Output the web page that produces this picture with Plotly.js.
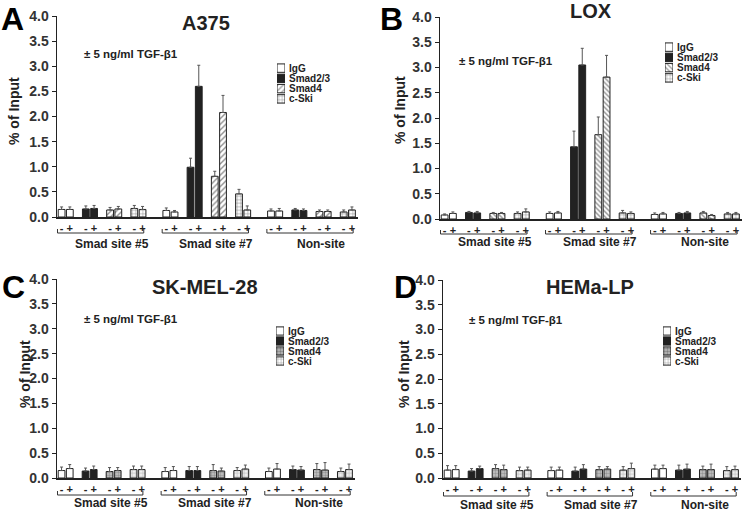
<!DOCTYPE html>
<html>
<head>
<meta charset="utf-8">
<script src="https://cdn.plot.ly/plotly-3.0.1.min.js"></script>
<style>html,body{margin:0;padding:0;background:#fff;}#chart{width:745px;height:511px;}</style>
</head>
<body>
<div id="chart"></div>
<script>
// ---------------- DATA ----------------
const cellLines = ['A375', 'LOX', 'SK-MEL-28', 'HEMa-LP'];
const panelLetters = ['A', 'B', 'C', 'D'];
const groups = ['Smad site #5', 'Smad site #7', 'Non-site'];
const antibodies = ['IgG', 'Smad2/3', 'Smad4', 'c-Ski'];
const treatments = ['-', '+'];
const treatmentNote = '± 5 ng/ml TGF-β1';
const yTitle = '% of Input';
// each array: [site5 -, site5 +, site7 -, site7 +, non-site -, non-site +]
const A375_IgG      = [0.15, 0.15, 0.13, 0.10, 0.12, 0.12];
const A375_IgG_err  = [0.05, 0.05, 0.05, 0.03, 0.04, 0.05];
const A375_Smad23   = [0.16, 0.17, 0.99, 2.60, 0.14, 0.13];
const A375_Smad23_err = [0.06, 0.06, 0.18, 0.42, 0.03, 0.03];
const A375_Smad4    = [0.14, 0.16, 0.81, 2.08, 0.11, 0.11];
const A375_Smad4_err  = [0.05, 0.05, 0.10, 0.34, 0.03, 0.03];
const A375_cSki     = [0.17, 0.15, 0.46, 0.14, 0.10, 0.14];
const A375_cSki_err   = [0.06, 0.06, 0.09, 0.08, 0.04, 0.06];

const LOX_IgG       = [0.08, 0.11, 0.11, 0.12, 0.09, 0.10];
const LOX_IgG_err   = [0.02, 0.03, 0.03, 0.03, 0.03, 0.03];
const LOX_Smad23    = [0.13, 0.12, 1.43, 3.05, 0.11, 0.12];
const LOX_Smad23_err  = [0.02, 0.03, 0.31, 0.33, 0.02, 0.03];
const LOX_Smad4     = [0.11, 0.11, 1.67, 2.81, 0.12, 0.07];
const LOX_Smad4_err   = [0.02, 0.02, 0.35, 0.43, 0.03, 0.02];
const LOX_cSki      = [0.11, 0.14, 0.12, 0.11, 0.10, 0.10];
const LOX_cSki_err    = [0.03, 0.06, 0.05, 0.03, 0.03, 0.03];

const SKMEL28_IgG     = [0.15, 0.19, 0.13, 0.15, 0.13, 0.18];
const SKMEL28_IgG_err = [0.07, 0.08, 0.08, 0.08, 0.07, 0.11];
const SKMEL28_Smad23  = [0.14, 0.17, 0.15, 0.15, 0.17, 0.16];
const SKMEL28_Smad23_err = [0.06, 0.07, 0.08, 0.08, 0.07, 0.07];
const SKMEL28_Smad4   = [0.13, 0.15, 0.15, 0.14, 0.17, 0.16];
const SKMEL28_Smad4_err  = [0.08, 0.06, 0.12, 0.06, 0.12, 0.15];
const SKMEL28_cSki    = [0.17, 0.17, 0.15, 0.18, 0.13, 0.17];
const SKMEL28_cSki_err   = [0.07, 0.07, 0.06, 0.08, 0.07, 0.11];

const HEMaLP_IgG      = [0.16, 0.17, 0.15, 0.16, 0.18, 0.19];
const HEMaLP_IgG_err  = [0.09, 0.08, 0.07, 0.06, 0.08, 0.07];
const HEMaLP_Smad23   = [0.14, 0.19, 0.14, 0.18, 0.16, 0.18];
const HEMaLP_Smad23_err = [0.05, 0.05, 0.08, 0.09, 0.10, 0.10];
const HEMaLP_Smad4    = [0.19, 0.17, 0.17, 0.18, 0.17, 0.17];
const HEMaLP_Smad4_err  = [0.08, 0.09, 0.06, 0.05, 0.07, 0.11];
const HEMaLP_cSki     = [0.15, 0.16, 0.16, 0.19, 0.15, 0.17];
const HEMaLP_cSki_err   = [0.07, 0.06, 0.07, 0.11, 0.08, 0.07];

const panelValues = [
  [A375_IgG, A375_Smad23, A375_Smad4, A375_cSki],
  [LOX_IgG, LOX_Smad23, LOX_Smad4, LOX_cSki],
  [SKMEL28_IgG, SKMEL28_Smad23, SKMEL28_Smad4, SKMEL28_cSki],
  [HEMaLP_IgG, HEMaLP_Smad23, HEMaLP_Smad4, HEMaLP_cSki]
];
const panelErrors = [
  [A375_IgG_err, A375_Smad23_err, A375_Smad4_err, A375_cSki_err],
  [LOX_IgG_err, LOX_Smad23_err, LOX_Smad4_err, LOX_cSki_err],
  [SKMEL28_IgG_err, SKMEL28_Smad23_err, SKMEL28_Smad4_err, SKMEL28_cSki_err],
  [HEMaLP_IgG_err, HEMaLP_Smad23_err, HEMaLP_Smad4_err, HEMaLP_cSki_err]
];

// ---------------- LAYOUT / STYLE ----------------
const W = 745, H = 511;
const GROUP_STEP = 4.32, HALF = 0.17, BAR_W = 0.28;
const XRANGE = [-0.36, 12.06];
const FONT = 'Liberation Sans, Arial, sans-serif';
const INK = '#222';

// pixel boxes of each panel's plot area: [left, right, top(4.0), bottom(0.0)]
const boxes = [[57, 358, 16, 217], [440, 742, 17, 219], [57, 355, 279, 478], [443, 741, 280, 478]];
// legend swatch boxes: [left, right, top, bottom]
const legBoxes = [[277, 285, 63, 104], [665, 673, 42, 83], [276, 284, 326, 366], [663, 671, 326, 366]];
const letterPos = [[13, 19], [391, 19], [14, 287], [405, 287]];
const titlePos = [[206, 23], [591, 11], [205, 287], [590, 287]];
const notePos = [[82, 54], [457, 61], [82, 319], [467, 320]];
const yTitlePos = [[14, 111], [400, 110], [25, 374], [404, 374]];
// offsets below axis (px): bracket bottom, bracket top, group label center
const belowOff = [[-16, -12, -27], [-15, -11, -23], [-17, -13, -25], [-18, -14, -27]];

function styleFor(p, a) {
  const light = p >= 2;
  if (a === 0) return {color: 'white', pattern: {shape: ''}};
  if (a === 1) return {color: INK, pattern: {shape: ''}};
  if (a === 2) {
    if (p === 0) return {color: 'white', pattern: {shape: '/', fgcolor: INK, bgcolor: 'white', size: 4, solidity: 0.35, fillmode: 'overlay'}};
    if (p === 1) return {color: 'white', pattern: {shape: '\\', fgcolor: INK, bgcolor: 'white', size: 3.5, solidity: 0.4, fillmode: 'overlay'}};
    return {color: '#bdbdbd', pattern: {shape: '.', fgcolor: '#6a6a6a', bgcolor: '#c4c4c4', size: 3, solidity: 0.5, fillmode: 'overlay'}};
  }
  return {color: 'white', pattern: {shape: '+', fgcolor: light ? '#7a7a7a' : INK, bgcolor: light ? '#f0f0f0' : 'white', size: 3.5, solidity: 0.3, fillmode: 'overlay'}};
}

function xPositions(a) {
  const out = [];
  for (let g = 0; g < groups.length; g++)
    for (let t = 0; t < treatments.length; t++)
      out.push(g * GROUP_STEP + a + (t === 0 ? -HALF : HALF));
  return out;
}

const traces = [];
const layout = {
  width: W, height: H,
  margin: {l: 0, r: 0, t: 0, b: 0},
  paper_bgcolor: 'white', plot_bgcolor: 'rgba(0,0,0,0)',
  barmode: 'overlay', showlegend: false,
  font: {family: FONT, color: INK},
  annotations: [], shapes: []
};

const allTickVals = [], allTickText = [];
for (let a = 0; a < antibodies.length; a++) {
  xPositions(a).forEach((x, i) => { allTickVals.push(x); allTickText.push(treatments[i % 2]); });
}

for (let p = 0; p < 4; p++) {
  const n = p + 1;
  const xk = n === 1 ? 'xaxis' : 'xaxis' + n, yk = n === 1 ? 'yaxis' : 'yaxis' + n;
  const xid = n === 1 ? 'x' : 'x' + n, yid = n === 1 ? 'y' : 'y' + n;
  const [L, R, T, B] = boxes[p];
  layout[xk] = {
    domain: [L / W, R / W], range: XRANGE, anchor: yid,
    showline: true, linecolor: INK, linewidth: 1.5, showgrid: false, zeroline: false,
    ticks: '', tickmode: 'array', tickvals: allTickVals, ticktext: allTickText,
    tickfont: {size: 11, weight: 'bold', color: INK}, fixedrange: true
  };
  layout[yk] = {
    domain: [1 - B / H, 1 - T / H], range: [0, 4], anchor: xid,
    showline: true, linecolor: INK, linewidth: 1.5, showgrid: false, zeroline: false,
    ticks: 'outside', ticklen: 4, tickwidth: 1, tickcolor: INK, dtick: 0.5, tickformat: '.1f',
    tickfont: {size: 14, weight: 'bold', color: '#333'}, fixedrange: true
  };
  for (let a = 0; a < antibodies.length; a++) {
    const st = styleFor(p, a);
    traces.push({
      type: 'bar', name: antibodies[a], xaxis: xid, yaxis: yid,
      x: xPositions(a), y: panelValues[p][a], width: BAR_W,
      marker: {color: st.color, pattern: st.pattern, line: {color: INK, width: 1}},
      error_y: {type: 'data', array: panelErrors[p][a], arrayminus: panelErrors[p][a].map(() => 0),
                symmetric: false, color: '#555', thickness: 1, width: 1.5},
      hoverinfo: 'x+y'
    });
  }
  // legend as a tiny horizontal bar chart on its own axes
  const ln = n + 4;
  const [lL, lR, lT, lB] = legBoxes[p];
  layout['xaxis' + ln] = {domain: [lL / W, lR / W], range: [0, 1], anchor: 'y' + ln, visible: false, fixedrange: true};
  layout['yaxis' + ln] = {
    domain: [1 - lB / H, 1 - lT / H], anchor: 'x' + ln, side: 'right', type: 'category',
    categoryorder: 'array', categoryarray: antibodies, autorange: 'reversed',
    tickmode: 'array', tickvals: antibodies, ticktext: antibodies,
    showline: false, showgrid: false, zeroline: false, ticks: '', ticklabelstandoff: 3,
    tickfont: {size: 10, weight: 'bold', color: INK}, fixedrange: true
  };
  const sts = antibodies.map((_, a) => styleFor(p, a));
  traces.push({
    type: 'bar', orientation: 'h', xaxis: 'x' + ln, yaxis: 'y' + ln,
    y: antibodies, x: antibodies.map(() => 1), width: 0.82, hoverinfo: 'skip',
    marker: {
      color: sts.map(s => s.color),
      line: {color: INK, width: 1},
      pattern: {
        shape: sts.map(s => s.pattern.shape || ''),
        fgcolor: sts.map(s => s.pattern.fgcolor || INK),
        bgcolor: sts.map(s => s.pattern.bgcolor || s.color),
        size: sts.map(s => s.pattern.size || 4),
        solidity: sts.map(s => s.pattern.solidity || 0.3),
        fillmode: 'overlay'
      }
    }
  });

  // annotations
  layout.annotations.push(
    {xref: 'paper', yref: 'paper', x: letterPos[p][0] / W, y: 1 - letterPos[p][1] / H, xanchor: 'center', yanchor: 'middle',
     text: panelLetters[p], showarrow: false, font: {size: 32, weight: 'bold', color: '#000'}},
    {xref: 'paper', yref: 'paper', x: titlePos[p][0] / W, y: 1 - titlePos[p][1] / H, xanchor: 'center', yanchor: 'middle',
     text: cellLines[p], showarrow: false, font: {size: 20, weight: 'bold', color: INK}},
    {xref: 'paper', yref: 'paper', x: notePos[p][0] / W, y: 1 - notePos[p][1] / H, xanchor: 'left', yanchor: 'middle',
     text: treatmentNote, showarrow: false, font: {size: 11.5, weight: 'bold', color: INK}},
    {xref: 'paper', yref: 'paper', x: yTitlePos[p][0] / W, y: 1 - yTitlePos[p][1] / H, xanchor: 'center', yanchor: 'middle',
     text: yTitle, textangle: -90, showarrow: false, font: {size: 14, weight: 'bold', color: INK}}
  );
  const [bb, bt, lab] = belowOff[p];
  for (let g = 0; g < groups.length; g++) {
    const x0 = g * GROUP_STEP - HALF - 0.17, x1 = g * GROUP_STEP + 3 + HALF + 0.05;
    const base = {type: 'line', xref: xid, yref: yid + ' domain', ysizemode: 'pixel', yanchor: 0, line: {color: '#333', width: 1}};
    layout.shapes.push(
      Object.assign({}, base, {x0: x0, x1: x1, y0: bb, y1: bb}),
      Object.assign({}, base, {x0: x0, x1: x0, y0: bb, y1: bt}),
      Object.assign({}, base, {x0: x1, x1: x1, y0: bb, y1: bt})
    );
    layout.annotations.push({
      xref: xid, yref: yid + ' domain', x: g * GROUP_STEP + 1.5 + 0.4, y: 0, yshift: lab,
      xanchor: 'center', yanchor: 'middle', text: groups[g], showarrow: false,
      font: {size: 12, weight: 'bold', color: INK}
    });
  }
}

Plotly.newPlot('chart', traces, layout, {staticPlot: true, displayModeBar: false});
</script>
</body>
</html>
